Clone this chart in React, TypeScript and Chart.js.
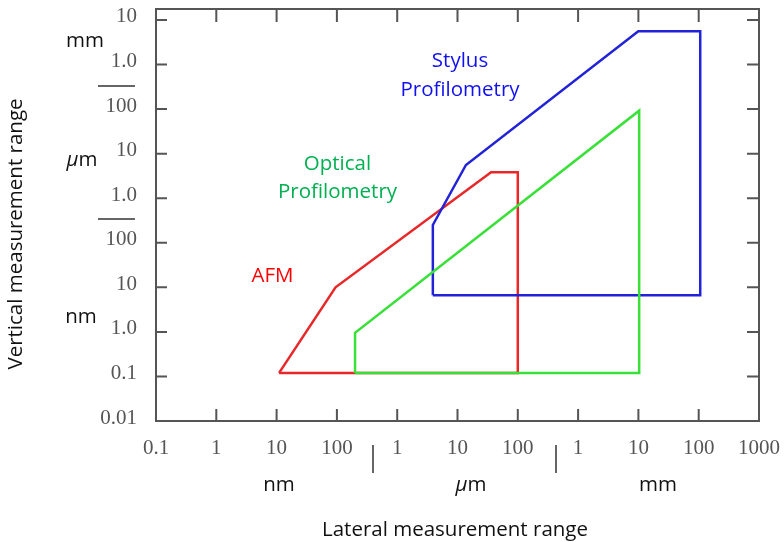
import React, { useEffect, useRef } from 'react';
import { Chart, registerables } from 'chart.js';

Chart.register(...registerables);

// All values in nanometres (lateral = x, vertical = y)
const afmX = [11, 95, 36000, 100000, 100000, 11];
const afmY = [0.12, 10, 3800, 3800, 0.12, 0.12];

const opticalX = [200, 200, 1.03e7, 1.03e7, 200];
const opticalY = [0.12, 0.95, 92000, 0.12, 0.12];

const stylusX = [3900, 3900, 13800, 9.96e6, 1.06e8, 1.06e8, 3900];
const stylusY = [6.6, 250, 5560, 5.6e6, 5.6e6, 6.6, 6.6];

const xTickValues = [0.1, 1, 10, 100, 1e3, 1e4, 1e5, 1e6, 1e7, 1e8, 1e9];
const xTickLabels = ['0.1', '1', '10', '100', '1', '10', '100', '1', '10', '100', '1000'];
const yTickValues = [0.01, 0.1, 1, 10, 100, 1e3, 1e4, 1e5, 1e6, 1e7];
const yTickLabels = ['0.01', '0.1', '1.0', '10', '100', '1.0', '10', '100', '1.0', '10'];

const unitNames = ['nm', 'μm', 'mm'];
const seriesNames = ['AFM', 'Optical Profilometry', 'Stylus Profilometry'];
const xTitle = 'Lateral measurement range';
const yTitle = 'Vertical measurement range';

const pts = (xs: number[], ys: number[]) => xs.map((x, i) => ({ x, y: ys[i] }));

const SANS = '"Open Sans", "Noto Sans", sans-serif';
const FS = '20.5px';
const TICK_COLOR = '#555';

function drawUnit(ctx: CanvasRenderingContext2D, text: string, cx: number, baseline: number) {
  ctx.textBaseline = 'alphabetic';
  ctx.textAlign = 'left';
  if (text.startsWith('μ')) {
    ctx.font = `italic ${FS} ${SANS}`;
    const w1 = ctx.measureText('μ').width;
    ctx.font = `${FS} ${SANS}`;
    const rest = text.slice(1);
    const w2 = ctx.measureText(rest).width;
    const x0 = cx - (w1 + w2) / 2;
    ctx.font = `italic ${FS} ${SANS}`;
    ctx.fillText('μ', x0, baseline);
    ctx.font = `${FS} ${SANS}`;
    ctx.fillText(rest, x0 + w1, baseline);
  } else {
    ctx.font = `${FS} ${SANS}`;
    const w = ctx.measureText(text).width;
    ctx.fillText(text, cx - w / 2, baseline);
  }
}

const overlay = {
  id: 'overlay',
  afterDraw(chart: any) {
    const { ctx, chartArea: a, scales } = chart;
    const xs = scales.x;
    const ys = scales.y;
    ctx.save();
    // frame
    ctx.strokeStyle = TICK_COLOR;
    ctx.lineWidth = 2;
    ctx.strokeRect(a.left, a.top, a.right - a.left, a.bottom - a.top);
    // inward ticks
    ctx.beginPath();
    xTickValues.slice(1, -1).forEach((v) => {
      const px = xs.getPixelForValue(v);
      ctx.moveTo(px, a.bottom);
      ctx.lineTo(px, a.bottom - 12);
      ctx.moveTo(px, a.top);
      ctx.lineTo(px, a.top + 13);
    });
    yTickValues.slice(1).forEach((v) => {
      const py = ys.getPixelForValue(v);
      ctx.moveTo(a.left, py);
      ctx.lineTo(a.left + 11, py);
      ctx.moveTo(a.right, py);
      ctx.lineTo(a.right - 12, py);
    });
    ctx.stroke();

    // unit separators
    ctx.strokeStyle = '#666';
    ctx.lineWidth = 2;
    ctx.beginPath();
    [373, 556].forEach((x) => {
      ctx.moveTo(x, 445);
      ctx.lineTo(x, 473);
    });
    [86, 219].forEach((y) => {
      ctx.moveTo(98, y);
      ctx.lineTo(135, y);
    });
    ctx.stroke();

    // unit labels
    ctx.fillStyle = '#111';
    drawUnit(ctx, unitNames[0], 279, 491);
    drawUnit(ctx, unitNames[1], 471, 491);
    drawUnit(ctx, unitNames[2], 658, 491);
    drawUnit(ctx, unitNames[2], 85, 47);
    drawUnit(ctx, unitNames[1], 82, 166);
    drawUnit(ctx, unitNames[0], 81, 323);

    // series labels
    ctx.font = `${FS} ${SANS}`;
    ctx.textAlign = 'center';
    ctx.textBaseline = 'alphabetic';
    ctx.fillStyle = '#ff0000';
    ctx.fillText(seriesNames[0], 272.5, 282);
    const [o1, o2] = seriesNames[1].split(' ');
    ctx.fillStyle = '#00b050';
    ctx.fillText(o1, 337.5, 169.5);
    ctx.fillText(o2, 337.5, 197.5);
    const [s1, s2] = seriesNames[2].split(' ');
    ctx.fillStyle = '#1010f0';
    ctx.fillText(s1, 460, 66.5);
    ctx.fillText(s2, 460, 95.5);

    // axis titles
    ctx.fillStyle = '#111';
    ctx.fillText(xTitle, 455, 536);
    ctx.translate(22, 234);
    ctx.rotate(-Math.PI / 2);
    ctx.fillText(yTitle, 0, 0);
    ctx.restore();
  },
};

export default function App() {
  const ref = useRef<HTMLCanvasElement | null>(null);

  useEffect(() => {
    if (!ref.current) return;
    const tickFont = { family: '"Liberation Serif", "Times New Roman", serif', size: 21 };
    const chart = new Chart(ref.current, {
      type: 'scatter',
      data: {
        datasets: [
          {
            label: seriesNames[0],
            data: pts(afmX, afmY),
            showLine: true,
            borderColor: '#e82828',
            borderWidth: 2.5,
            pointRadius: 0,
            fill: false,
            order: 2,
          },
          {
            label: seriesNames[1],
            data: pts(opticalX, opticalY),
            showLine: true,
            borderColor: '#38e038',
            borderWidth: 2.5,
            pointRadius: 0,
            fill: false,
            order: 0,
          },
          {
            label: seriesNames[2],
            data: pts(stylusX, stylusY),
            showLine: true,
            borderColor: '#2222d8',
            borderWidth: 2.5,
            pointRadius: 0,
            fill: false,
            order: 1,
          },
        ],
      },
      options: {
        animation: false,
        responsive: false,
        maintainAspectRatio: false,
        layout: { padding: { top: 9, right: 25, left: 0, bottom: 0 } },
        plugins: { legend: { display: false }, tooltip: { enabled: false } },
        scales: {
          x: {
            type: 'logarithmic',
            position: 'bottom',
            min: 0.1,
            max: 1e9,
            afterBuildTicks: (s: any) => {
              s.ticks = xTickValues.map((value) => ({ value }));
            },
            afterFit: (s: any) => {
              s.height = 121;
              s.paddingLeft = 0;
              s.paddingRight = 0;
            },
            grid: { display: false, drawTicks: false },
            border: { display: false },
            ticks: {
              autoSkip: false,
              maxRotation: 0,
              minRotation: 0,
              padding: 15,
              color: TICK_COLOR,
              font: tickFont,
              callback: (_v: any, i: number) => xTickLabels[i],
            },
          },
          y: {
            type: 'logarithmic',
            position: 'left',
            min: 0.01,
            max: 1.76e7,
            afterBuildTicks: (s: any) => {
              s.ticks = yTickValues.map((value) => ({ value }));
            },
            afterFit: (s: any) => {
              s.width = 156;
              s.paddingTop = 0;
              s.paddingBottom = 0;
            },
            grid: { display: false, drawTicks: false },
            border: { display: false },
            ticks: {
              autoSkip: false,
              padding: 19,
              labelOffset: -3,
              color: TICK_COLOR,
              font: tickFont,
              callback: (_v: any, i: number) => yTickLabels[i],
            },
          },
        },
      },
      plugins: [overlay],
    } as any);
    return () => chart.destroy();
  }, []);

  return (
    <div style={{ position: 'absolute', left: 0, top: 0, width: 784, height: 542, background: '#fff' }}>
      <canvas ref={ref} width={784} height={542} style={{ width: 784, height: 542, display: 'block' }} />
    </div>
  );
}
